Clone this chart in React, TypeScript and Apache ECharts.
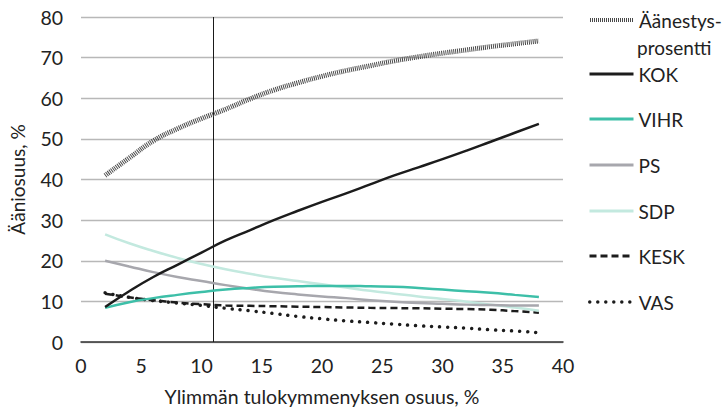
import React, { useEffect, useRef } from "react";
import * as echarts from "echarts";

const xs = [2, 4, 6, 8, 10, 12, 14, 16, 18, 20, 22, 24, 26, 28, 30, 32, 34, 36, 38];
const turnout = [41, 45.3, 49.5, 52.5, 55, 57.3, 59.8, 62, 63.8, 65.4, 66.8, 68, 69.2, 70.2, 71.1, 71.9, 72.7, 73.4, 74.1];
const kok = [8.6, 12.5, 16, 19, 22, 25, 27.5, 30, 32.3, 34.5, 36.6, 38.8, 41, 43, 45, 47.1, 49.3, 51.5, 53.7];
const vihr = [8.4, 9.8, 10.8, 11.6, 12.3, 12.9, 13.3, 13.6, 13.7, 13.8, 13.8, 13.7, 13.6, 13.3, 12.9, 12.5, 12.1, 11.6, 11.1];
const ps = [20.0, 18.6, 17.2, 16.0, 15.0, 14.0, 13.1, 12.3, 11.7, 11.2, 10.8, 10.3, 9.9, 9.6, 9.4, 9.2, 9.1, 9.0, 9.0];
const sdp = [26.5, 24.3, 22.4, 20.7, 19.2, 17.9, 16.8, 15.8, 15.0, 14.2, 13.4, 12.6, 11.9, 11.2, 10.6, 9.9, 9.2, 8.5, 7.7];
const kesk = [11.9, 11.0, 10.3, 9.7, 9.3, 9.0, 8.9, 8.8, 8.7, 8.6, 8.5, 8.4, 8.35, 8.3, 8.2, 8.1, 7.95, 7.6, 7.2];
const vas = [12.1, 11.0, 10.2, 9.6, 9.0, 8.3, 7.7, 7.0, 6.3, 5.7, 5.2, 4.8, 4.4, 4.0, 3.7, 3.4, 3.0, 2.7, 2.3];

const seriesNames = ["Äänestysprosentti", "KOK", "VIHR", "PS", "SDP", "KESK", "VAS"];
const legendLabels = ["Äänestys-", "KOK", "VIHR", "PS", "SDP", "KESK", "VAS"];
const legendSecondLine = "prosentti";
const seriesData = [turnout, kok, vihr, ps, sdp, kesk, vas];
const markerX = 11;

const xTicks = { min: 0, max: 40, interval: 5 };
const yTicks = { min: 0, max: 80, interval: 10 };

const FONT = "Lato";

export default function App() {
  const ref = useRef<HTMLDivElement>(null);
  useEffect(() => {
    document.body.style.margin = "0";
    if (!ref.current) return;
    const chart = echarts.init(ref.current, undefined, { renderer: "svg" });

    const styles: any[] = [
      { color: "#4a4a4a", width: 5, type: [1, 1], cap: "butt" },
      { color: "#1c1c1c", width: 2.5, type: "solid", cap: "butt" },
      { color: "#3dbfa8", width: 2.5, type: "solid", cap: "butt" },
      { color: "#a7a7ad", width: 2.5, type: "solid", cap: "butt" },
      { color: "#c3e9df", width: 2.5, type: "solid", cap: "butt" },
      { color: "#1c1c1c", width: 2.5, type: [7, 4], cap: "butt" },
      { color: "#1c1c1c", width: 3.5, type: [0.01, 8], cap: "round" },
    ];
    const legendWidths = [4, 3, 3, 3, 3, 3, 3.5];
    const legendCenters = [20, 74, 119, 165, 211, 256, 302];
    const secondLineCenter = 47;
    const LEG_FS = 19;

    const series = seriesNames.map((name, i) => {
      const s: any = {
        name,
        type: "line",
        data: xs.map((x, j) => [x, seriesData[i][j]]),
        smooth: 0.5,
        symbol: "none",
        showSymbol: false,
        lineStyle: styles[i],
        itemStyle: { color: styles[i].color },
        z: 10 - i,
      };
      if (name === "KOK") {
        s.markLine = {
          silent: true,
          symbol: ["none", "none"],
          label: { show: false },
          lineStyle: { color: "#1a1a1a", width: 1, type: "solid" },
          data: [{ xAxis: markerX }],
        };
      }
      return s;
    });

    const legends = seriesNames.map((name, i) => ({
      data: [name],
      orient: "vertical",
      left: 588,
      top: legendCenters[i] - 12,
      padding: 0,
      itemWidth: 44,
      itemHeight: 14,
      selectedMode: false,
      formatter: () => legendLabels[i],
      itemStyle: { opacity: 0, borderWidth: 0 },
      lineStyle: {
        width: legendWidths[i],
        type: styles[i].type,
        cap: styles[i].cap,
        color: styles[i].color,
        opacity: 1,
      },
      textStyle: { fontFamily: FONT, fontSize: LEG_FS, lineHeight: 24, color: "#222" },
    }));

    chart.setOption({
      animation: false,
      backgroundColor: "#fff",
      textStyle: { fontFamily: FONT },
      grid: { left: 81, right: 161, top: 17, bottom: 68, containLabel: false },
      legend: legends,
      graphic: [
        {
          type: "text",
          left: 637,
          top: secondLineCenter - 12,
          style: { text: legendSecondLine, fontFamily: FONT, fontSize: LEG_FS, lineHeight: 24, fill: "#222" },
        },
      ],
      xAxis: {
        type: "value",
        ...xTicks,
        name: "Ylimmän tulokymmenyksen osuus, %",
        nameLocation: "middle",
        nameGap: 44,
        nameTextStyle: { fontFamily: FONT, fontSize: 19.5, color: "#222" },
        axisLine: { show: true, lineStyle: { color: "#333", width: 1.5 } },
        axisTick: { show: false },
        splitLine: { show: false },
        axisLabel: { fontFamily: FONT, fontSize: 19.5, color: "#222", margin: 13 },
      },
      yAxis: {
        type: "value",
        ...yTicks,
        name: "Ääniosuus, %",
        nameLocation: "middle",
        nameGap: 54,
        nameTextStyle: { fontFamily: FONT, fontSize: 19, color: "#222" },
        axisLine: { show: false },
        axisTick: { show: false },
        splitLine: { show: true, lineStyle: { color: "#b8b8b8", width: 1.3 } },
        axisLabel: { fontFamily: FONT, fontSize: 19.5, color: "#222", margin: 18 },
      },
      series,
    });
    return () => chart.dispose();
  }, []);
  return <div ref={ref} style={{ width: 724, height: 411 }} />;
}
